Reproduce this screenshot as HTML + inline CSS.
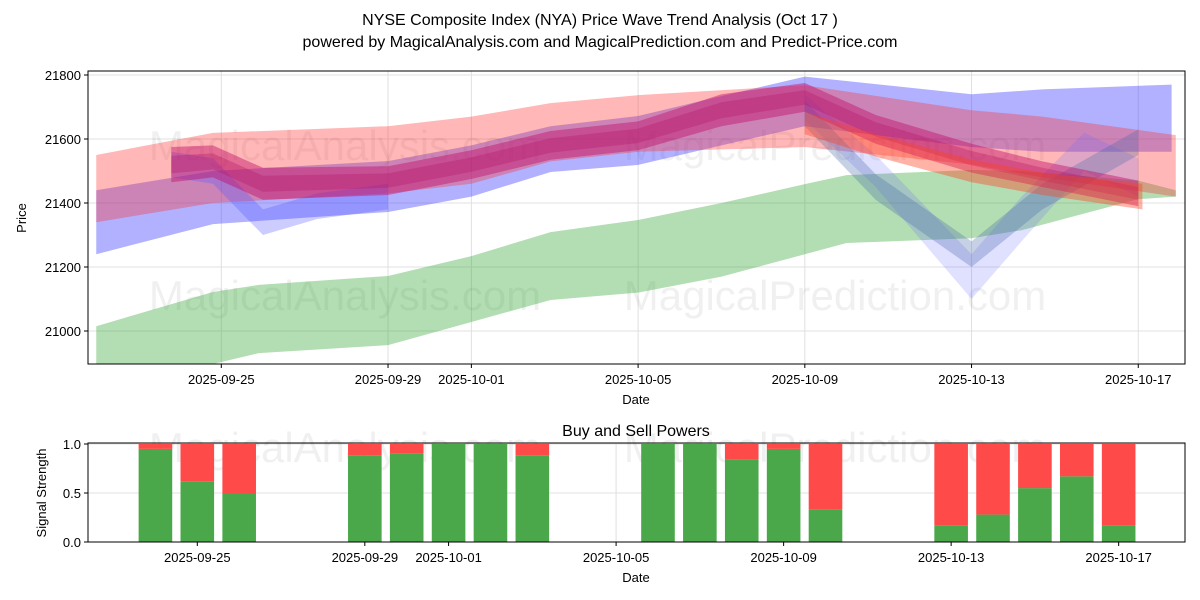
<!DOCTYPE html>
<html><head><meta charset="utf-8">
<style>
body{margin:0;background:#fff;}
svg{display:block;font-family:"Liberation Sans","DejaVu Sans",sans-serif;}
</style></head>
<body>
<svg id="chart" width="1200" height="600" viewBox="0 0 1200 600">
<defs><clipPath id="plotClip"><rect x="88" y="71" width="1097" height="293"/></clipPath></defs>
<text x="600" y="25" text-anchor="middle" font-size="16" fill="#000">NYSE Composite Index (NYA) Price Wave Trend Analysis (Oct 17 )</text>
<text x="600" y="47" text-anchor="middle" font-size="16" fill="#000">powered by MagicalAnalysis.com and MagicalPrediction.com and Predict-Price.com</text>
<g id="topPanel"></g>
<g id="botPanel"></g>
</svg>
<script>
// ---- data ----
const tickDays = [0, 4, 6, 10, 14, 18, 22];
const tickLabels = ["2025-09-25","2025-09-29","2025-10-01","2025-10-05","2025-10-09","2025-10-13","2025-10-17"];
const priceTicks = [21000, 21200, 21400, 21600, 21800];

const greenDays = [-3, -0.2, 0.9, 4, 6, 7.9, 10, 12, 14, 15, 18, 19.2, 22, 22.9];
const greenHi = [21015, 21122, 21144, 21172, 21234, 21309, 21347, 21400, 21459, 21487, 21503, 21500, 21470, 21440];
const greenLo = [20850, 20897, 20931, 20956, 21028, 21097, 21120, 21170, 21240, 21275, 21290, 21315, 21412, 21420];

const blueDays = [-3, -0.2, 4, 6, 7.9, 10, 12, 14, 18, 19.7, 22.8];
const blueHi = [21440, 21500, 21531, 21580, 21640, 21672, 21734, 21795, 21740, 21755, 21770];
const blueLo = [21240, 21334, 21372, 21420, 21497, 21519, 21580, 21640, 21575, 21560, 21560];

const redDays = [-3, -0.2, 4, 6, 7.9, 10, 14, 18, 19.7, 22.9];
const redHi = [21550, 21619, 21640, 21670, 21712, 21737, 21768, 21690, 21670, 21612];
const redLo = [21340, 21400, 21430, 21460, 21530, 21560, 21575, 21520, 21480, 21420];

const coreDays = [-1.2, -0.2, 1, 4, 6, 7.9, 10, 12, 14, 15.7, 18, 19.7, 22];
const coreMid = [21520, 21530, 21460, 21470, 21520, 21580, 21610, 21690, 21730, 21630, 21540, 21490, 21430];
const coreHalf = [55, 50, 50, 45, 45, 45, 45, 50, 45, 45, 45, 40, 40];

const dipDays = [14, 15.7, 18, 19.2, 20.7, 22];
const dipMid = [21700, 21500, 21170, 21350, 21560, 21480];
const dipHalf = [40, 50, 70, 70, 60, 60];

const dip2Days = [14, 15.7, 18, 19.7, 22];
const dip2Mid = [21680, 21450, 21240, 21420, 21590];
const dip2Half = [40, 40, 40, 40, 40];

const redTailDays = [14, 15.7, 18, 19.7, 22.1];
const redTailMid = [21650, 21580, 21500, 21460, 21420];
const redTailHalf = [35, 35, 35, 35, 40];

const earlyDays = [-1.2, -0.2, 1, 2.3, 4];
const earlyMid = [21520, 21500, 21340, 21390, 21420];
const earlyHalf = [40, 40, 40, 40, 40];

const barDays = [-1, 0, 1, 4, 5, 6, 7, 8, 11, 12, 13, 14, 15, 18, 19, 20, 21, 22];
const buyVals = [0.95, 0.62, 0.5, 0.88, 0.9, 1.0, 1.0, 0.88, 1.0, 1.0, 0.84, 0.95, 0.33, 0.17, 0.28, 0.55, 0.67, 0.17];
const powerTicks = [0, 0.5, 1.0];

// ---- axes ----
const NS = "http://www.w3.org/2000/svg";
const X0 = 88, X1 = 1185;
const xs = d => 221.3 + d * 41.68;
const xb = d => 197.3 + d * 41.88;
const ys = v => 331 - (v - 21000) * 0.32;
const yb = v => 542 - v * 98;
function mk(tag, attrs, parent) {
  const e = document.createElementNS(NS, tag);
  for (const k in attrs) e.setAttribute(k, attrs[k]);
  parent.appendChild(e);
  return e;
}
const topG = document.getElementById("topPanel");
const botG = document.getElementById("botPanel");

priceTicks.forEach((v) => {
  const l = mk("line", {x1: X0, x2: X1, y1: ys(v), y2: ys(v), stroke: "#e0e0e0", "stroke-width": 1}, topG);
  
  
  mk("line", {x1: X0 - 4, x2: X0, y1: ys(v), y2: ys(v), stroke: "#000"}, topG);
  const t = mk("text", {x: X0 - 7, y: ys(v) + 5, "text-anchor": "end", "font-size": 13}, topG);
  t.textContent = v;
  
  
});
tickDays.forEach((d, i) => {
  const l = mk("line", {x1: xs(d), x2: xs(d), y1: 71, y2: 364, stroke: "#e0e0e0"}, topG);
  
  
  mk("line", {x1: xs(d), x2: xs(d), y1: 364, y2: 368, stroke: "#000"}, topG);
  const t = mk("text", {x: xs(d), y: 384, "text-anchor": "middle", "font-size": 13}, topG);
  t.textContent = tickLabels[i];
  
  
});
[[345, 160], [835, 160], [345, 310], [835, 310]].forEach((p, i) => {
  const t = mk("text", {x: p[0], y: p[1], "text-anchor": "middle", "font-size": 42, fill: "#000", "fill-opacity": 0.06}, topG);
  t.textContent = i % 2 ? "MagicalPrediction.com" : "MagicalAnalysis.com";
  
  
});

const bandG = mk("g", {"clip-path": "url(#plotClip)"}, topG);


function bandPoly(days, lo, hi, color, op, name) {
  const up = days.map((d, i) => xs(d) + "," + ys(hi[i]));
  const dn = days.map((d, i) => xs(d) + "," + ys(lo[i])).reverse();
  const p = mk("polygon", {points: up.concat(dn).join(" "), fill: color, "fill-opacity": op}, bandG);
  
  
}
function midBand(days, mid, half, color, op, name) {
  bandPoly(days, mid.map((m, i) => m - half[i]), mid.map((m, i) => m + half[i]), color, op, name);
}
bandPoly(greenDays, greenLo, greenHi, "#2ca02c", 0.36, "green-wave-band");
bandPoly(blueDays, blueLo, blueHi, "#3333ff", 0.38, "blue-wave-band");
bandPoly(redDays, redLo, redHi, "#ff3030", 0.35, "red-wave-band");
midBand(dipDays, dipMid, dipHalf, "#6666ff", 0.2, "blue-dip-band");
midBand(dip2Days, dip2Mid, dip2Half, "#4466aa", 0.3, "teal-dip-band");
midBand(earlyDays, earlyMid, earlyHalf, "#5555ff", 0.3, "blue-early-band");
midBand(coreDays, coreMid, coreHalf, "#c0106a", 0.45, "magenta-core-band");
midBand(coreDays, coreMid, coreHalf.map(h => h * 0.5), "#b01060", 0.3, "magenta-inner-band");
midBand(redTailDays, redTailMid, redTailHalf, "#ff4020", 0.4, "red-tail-band");

mk("rect", {x: X0, y: 71, width: X1 - X0, height: 293, fill: "none", stroke: "#000"}, topG);
let t = mk("text", {x: 636, y: 404, "text-anchor": "middle", "font-size": 13}, topG);
t.textContent = "Date";


t = mk("text", {x: 26, y: 218, "text-anchor": "middle", "font-size": 13, transform: "rotate(-90 26 218)"}, topG);
t.textContent = "Price";



powerTicks.forEach(v => {
  mk("line", {x1: X0, x2: X1, y1: yb(v), y2: yb(v), stroke: "#e0e0e0"}, botG);
  mk("line", {x1: X0 - 4, x2: X0, y1: yb(v), y2: yb(v), stroke: "#000"}, botG);
  const tt = mk("text", {x: X0 - 7, y: yb(v) + 5, "text-anchor": "end", "font-size": 13}, botG);
  tt.textContent = v.toFixed(1);
  
  
});
tickDays.forEach((d, i) => {
  mk("line", {x1: xb(d), x2: xb(d), y1: 443, y2: 542, stroke: "#e0e0e0"}, botG);
  mk("line", {x1: xb(d), x2: xb(d), y1: 542, y2: 546, stroke: "#000"}, botG);
  const tt = mk("text", {x: xb(d), y: 562, "text-anchor": "middle", "font-size": 13}, botG);
  tt.textContent = tickLabels[i];
  
  
});
[[345, 462], [835, 462]].forEach((p, i) => {
  const tt = mk("text", {x: p[0], y: p[1], "text-anchor": "middle", "font-size": 42, fill: "#000", "fill-opacity": 0.06}, botG);
  tt.textContent = i ? "MagicalPrediction.com" : "MagicalAnalysis.com";
  
  
});
barDays.forEach((d, i) => {
  const x = xb(d) - 16.8;
  const g = mk("rect", {x: x, y: yb(buyVals[i]), width: 33.6, height: yb(0) - yb(buyVals[i]), fill: "#4aa84a"}, botG);
  
  
  const r = mk("rect", {x: x, y: yb(1), width: 33.6, height: yb(buyVals[i]) - yb(1), fill: "#ff4a4a"}, botG);
  
  
});
mk("rect", {x: X0, y: 443, width: X1 - X0, height: 99, fill: "none", stroke: "#000"}, botG);
t = mk("text", {x: 636, y: 436, "text-anchor": "middle", "font-size": 16}, botG);
t.textContent = "Buy and Sell Powers";


t = mk("text", {x: 636, y: 582, "text-anchor": "middle", "font-size": 13}, botG);
t.textContent = "Date";


t = mk("text", {x: 46, y: 493, "text-anchor": "middle", "font-size": 13, transform: "rotate(-90 46 493)"}, botG);
t.textContent = "Signal Strength";


</script>
</body></html>
